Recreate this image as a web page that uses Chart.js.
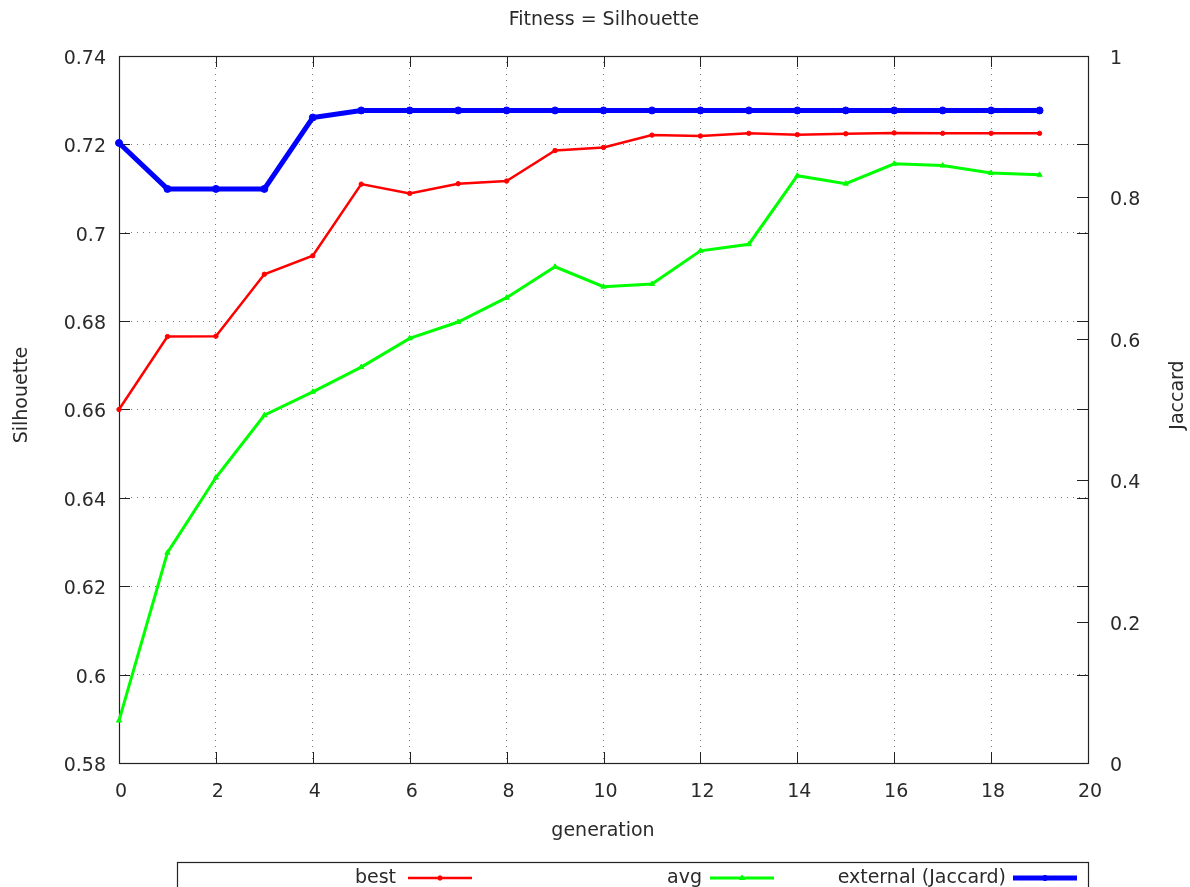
<!DOCTYPE html>
<html>
<head>
<meta charset="utf-8">
<title>Fitness = Silhouette</title>
<script src="https://cdn.jsdelivr.net/npm/chart.js@4/dist/chart.umd.min.js"></script>
<style>
  html, body { margin: 0; padding: 0; background: #fff; }
  #wrap { width: 1190px; height: 887px; position: relative; }
</style>
</head>
<body>
<div id="wrap"><canvas id="c" width="1190" height="887"></canvas></div>
<script>
// Generations on the x axis
const generations = [0, 1, 2, 3, 4, 5, 6, 7, 8, 9, 10, 11, 12, 13, 14, 15, 16, 17, 18, 19];
// Best silhouette per generation (left axis)
const best = [0.6600, 0.6765, 0.6766, 0.6906, 0.6948, 0.7110, 0.7089, 0.7111, 0.7117, 0.7186,
              0.7193, 0.7221, 0.7219, 0.7225, 0.7222, 0.7224, 0.7226, 0.7225, 0.7225, 0.7225];
// Average silhouette per generation (left axis)
const avg = [0.5896, 0.6276, 0.6446, 0.6587, 0.6640, 0.6696, 0.6761, 0.6798, 0.6853, 0.6923,
             0.6878, 0.6884, 0.6959, 0.6974, 0.7129, 0.7111, 0.7156, 0.7152, 0.7135, 0.7131];
// External validation index (right axis)
const jaccard = [0.877, 0.812, 0.812, 0.812, 0.913, 0.923, 0.923, 0.923, 0.923, 0.923,
                 0.923, 0.923, 0.923, 0.923, 0.923, 0.923, 0.923, 0.923, 0.923, 0.923];

const xTicks = [0, 2, 4, 6, 8, 10, 12, 14, 16, 18, 20];
const leftTicks = [0.58, 0.6, 0.62, 0.64, 0.66, 0.68, 0.7, 0.72, 0.74];
const rightTicks = [0, 0.2, 0.4, 0.6, 0.8, 1];

const FONT = 'DejaVu Sans, Verdana, sans-serif';
const FONT_SIZE = 19;
const TEXT = '#2a2a2a';
const GRID = '#7a7a7a';

const pts = ys => generations.map((g, i) => ({ x: g, y: ys[i] }));

// Frame, inward tick marks, titles and the key box
const decor = {
  id: 'decor',
  beforeDatasetsDraw(chart) {
    const { ctx, chartArea: a, scales } = chart;
    ctx.save();
    ctx.strokeStyle = '#222';
    ctx.lineWidth = 1;
    const tl = 11;
    ctx.beginPath();
    // x ticks, bottom and top
    xTicks.forEach(v => {
      const px = Math.round(scales.x.getPixelForValue(v)) + 0.5;
      ctx.moveTo(px, a.bottom); ctx.lineTo(px, a.bottom - tl);
      ctx.moveTo(px, a.top); ctx.lineTo(px, a.top + tl);
    });
    // left ticks, mirrored on the right border
    leftTicks.forEach(v => {
      const py = Math.round(scales.y.getPixelForValue(v)) + 0.5;
      ctx.moveTo(a.left, py); ctx.lineTo(a.left + tl, py);
      ctx.moveTo(a.right, py); ctx.lineTo(a.right - tl, py);
    });
    // right axis ticks
    rightTicks.forEach(v => {
      const py = Math.round(scales.y1.getPixelForValue(v)) + 0.5;
      ctx.moveTo(a.right, py); ctx.lineTo(a.right - tl, py);
    });
    ctx.stroke();
    ctx.lineWidth = 1.2;
    ctx.strokeRect(Math.round(a.left) + 0.5, Math.round(a.top) + 0.5,
                   Math.round(a.right - a.left), Math.round(a.bottom - a.top));
    ctx.restore();
  },
  afterDraw(chart) {
    const { ctx } = chart;
    ctx.save();
    ctx.fillStyle = TEXT;
    ctx.font = FONT_SIZE + 'px ' + FONT;
    ctx.textBaseline = 'middle';
    ctx.textAlign = 'center';
    ctx.fillText('Fitness = Silhouette', 604, 20);
    ctx.fillText('generation', 603, 831);

    ctx.save();
    ctx.translate(22, 395);
    ctx.rotate(-Math.PI / 2);
    ctx.fillText('Silhouette', 0, 0);
    ctx.restore();

    ctx.save();
    ctx.translate(1178, 395);
    ctx.rotate(-Math.PI / 2);
    ctx.fillText('Jaccard', 0, 0);
    ctx.restore();

    // key box
    ctx.strokeStyle = '#222';
    ctx.lineWidth = 1.2;
    ctx.strokeRect(177.5, 862.5, 911, 40);

    const layout = [
      { textRight: 396, x0: 408, x1: 472, r: 2.2 },
      { textRight: 702, x0: 710, x1: 774, r: 3 },
      { textRight: 1006, x0: 1013, x1: 1077, r: 2.6 }
    ];
    const ky = 878;
    chart.data.datasets.forEach((ds, i) => {
      const L = layout[i];
      ctx.fillStyle = TEXT;
      ctx.textAlign = 'right';
      ctx.fillText(ds.label, L.textRight, ky);
      ctx.strokeStyle = ds.borderColor;
      ctx.fillStyle = ds.backgroundColor;
      ctx.lineWidth = ds.borderWidth;
      ctx.beginPath();
      ctx.moveTo(L.x0, ky); ctx.lineTo(L.x1, ky);
      ctx.stroke();
      ctx.lineWidth = 1;
      Chart.helpers.drawPoint(ctx, {
        pointStyle: ds.pointStyle,
        radius: L.r,
        rotation: 0,
        borderWidth: 1
      }, (L.x0 + L.x1) / 2, ky);
    });
    ctx.restore();
  }
};

Chart.register(decor);

const chart = new Chart(document.getElementById('c'), {
  type: 'line',
  data: {
    datasets: [
      {
        label: 'best',
        data: pts(best),
        yAxisID: 'y',
        borderColor: '#ff0000',
        backgroundColor: '#ff0000',
        borderWidth: 2.5,
        pointStyle: 'circle',
        pointRadius: 2.2,
        pointBorderWidth: 1,
        clip: false,
        order: 2
      },
      {
        label: 'avg',
        data: pts(avg),
        yAxisID: 'y',
        borderColor: '#00ff00',
        backgroundColor: '#00ff00',
        borderWidth: 3,
        pointStyle: 'triangle',
        pointRadius: 3,
        pointBorderWidth: 1,
        clip: false,
        order: 3
      },
      {
        label: 'external (Jaccard)',
        data: pts(jaccard),
        yAxisID: 'y1',
        borderColor: '#0000ff',
        backgroundColor: '#0000ff',
        borderWidth: 5,
        pointStyle: 'circle',
        pointRadius: 3.5,
        pointBorderWidth: 1,
        clip: false,
        order: 1
      }
    ]
  },
  options: {
    responsive: false,
    animation: false,
    devicePixelRatio: 1,
    layout: { padding: { top: 56, left: 0, right: 0, bottom: 0 } },
    plugins: {
      legend: { display: false },
      title: { display: false },
      tooltip: { enabled: false }
    },
    elements: { line: { tension: 0 } },
    scales: {
      x: {
        type: 'linear',
        position: 'bottom',
        min: 0, max: 20,
        afterFit: s => { s.height = 124; },
        afterBuildTicks: s => { s.ticks = xTicks.map(v => ({ value: v })); },
        ticks: {
          padding: 18,
          labelOffset: 2,
          color: TEXT,
          font: { family: FONT, size: FONT_SIZE },
          maxRotation: 0,
          autoSkip: false
        },
        grid: { color: GRID, lineWidth: 1, drawTicks: false },
        border: { display: false, dash: [1, 5] }
      },
      y: {
        type: 'linear',
        position: 'left',
        min: 0.58, max: 0.74,
        afterFit: s => { s.width = 119; },
        afterBuildTicks: s => { s.ticks = leftTicks.map(v => ({ value: v })); },
        ticks: {
          padding: 13,
          labelOffset: 3,
          color: TEXT,
          font: { family: FONT, size: FONT_SIZE },
          callback: v => (+v.toFixed(2)).toString()
        },
        grid: { color: GRID, lineWidth: 1, drawTicks: false },
        border: { display: false, dash: [1, 5] }
      },
      y1: {
        type: 'linear',
        position: 'right',
        min: 0, max: 1,
        afterFit: s => { s.width = 102; },
        afterBuildTicks: s => { s.ticks = rightTicks.map(v => ({ value: v })); },
        ticks: {
          padding: 22,
          labelOffset: 3,
          color: TEXT,
          font: { family: FONT, size: FONT_SIZE },
          callback: v => (+v.toFixed(1)).toString()
        },
        grid: { drawOnChartArea: false, drawTicks: false },
        border: { display: false }
      }
    }
  }
});
</script>
</body>
</html>
